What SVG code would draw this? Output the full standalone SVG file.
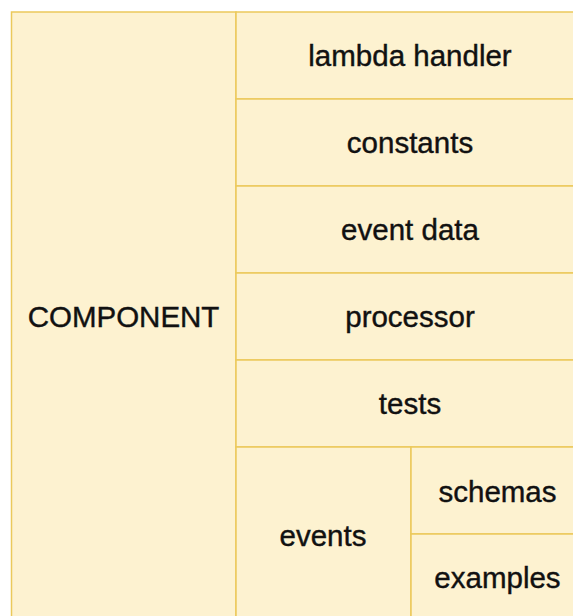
<svg xmlns="http://www.w3.org/2000/svg" width="573" height="616" viewBox="0 0 573 616">
<style>
.cell{fill:#fdf2d0;stroke:#ebc95b;stroke-width:1.5}
.lbl{font-family:"Liberation Sans",Arial,sans-serif;font-size:29.5px;fill:#111;text-anchor:middle;stroke:#111;stroke-width:0.4}
</style>
<rect width="573" height="616" fill="#ffffff"/>
<g id="component"><rect class="cell" x="11.5" y="12" width="224.5" height="614"/><text class="lbl" x="123.5" y="327">COMPONENT</text></g>
<g id="lambda-handler"><rect class="cell" x="236" y="12" width="349" height="87"/><text class="lbl" x="410" y="66">lambda handler</text></g>
<g id="constants"><rect class="cell" x="236" y="99" width="349" height="87"/><text class="lbl" x="410" y="153">constants</text></g>
<g id="event-data"><rect class="cell" x="236" y="186" width="349" height="87"/><text class="lbl" x="410" y="240">event data</text></g>
<g id="processor"><rect class="cell" x="236" y="273" width="349" height="87"/><text class="lbl" x="410" y="327">processor</text></g>
<g id="tests"><rect class="cell" x="236" y="360" width="349" height="87"/><text class="lbl" x="410" y="414">tests</text></g>
<g id="events"><rect class="cell" x="236" y="447" width="175" height="179"/><text class="lbl" x="323" y="546">events</text></g>
<g id="schemas"><rect class="cell" x="411" y="447" width="174" height="87"/><text class="lbl" x="497.5" y="502">schemas</text></g>
<g id="examples"><rect class="cell" x="411" y="534" width="174" height="92"/><text class="lbl" x="497.5" y="588">examples</text></g>
<g id="connectors"></g>
</svg>
